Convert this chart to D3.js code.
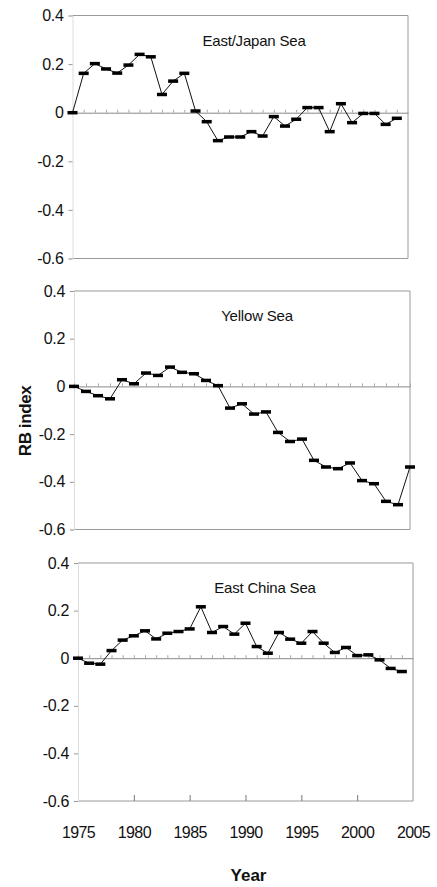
<!DOCTYPE html>
<html lang="en">
  <head>
    <meta charset="UTF-8" />
    <script src="https://cdnjs.cloudflare.com/ajax/libs/d3/7.8.5/d3.min.js"></script>
    <title>RB index</title>
    <style>
      body {
        margin: 0;
        background: #fff;
      }
      text {
        font-family: "Liberation Sans", Arial, sans-serif;
        fill: #111;
      }
      .title {
        font-size: 15px;
        text-anchor: middle;
        letter-spacing: -0.2px;
      }
      .axis-title {
        font-size: 17px;
        font-weight: bold;
        text-anchor: middle;
      }
      .frame {
        fill: none;
        stroke: #9a9a9a;
      }
      .series {
        fill: none;
        stroke: #111;
        stroke-width: 1;
      }
      .marker {
        fill: #000;
      }
    </style>
  </head>
  <body>
    <script>
      // years 1975-2004 (East/Japan Sea, East China Sea)
      const years = [
        1975, 1976, 1977, 1978, 1979, 1980, 1981, 1982, 1983, 1984, 1985,
        1986, 1987, 1988, 1989, 1990, 1991, 1992, 1993, 1994, 1995, 1996,
        1997, 1998, 1999, 2000, 2001, 2002, 2003, 2004,
      ];
      // Yellow Sea panel has 29 points spread over the full width
      const yellowYears = [
        1975, 1976, 1977, 1978, 1979, 1980, 1981, 1982, 1983, 1984, 1985,
        1986, 1987, 1988, 1989, 1990, 1991, 1992, 1993, 1994, 1995, 1996,
        1997, 1998, 1999, 2000, 2001, 2002, 2003,
      ];

      const eastJapan = [
        0, 0.162, 0.202, 0.18, 0.163, 0.196, 0.24, 0.23, 0.075, 0.13, 0.162,
        0.007, -0.037, -0.115, -0.1, -0.1, -0.078, -0.096, -0.016, -0.055,
        -0.027, 0.021, 0.021, -0.078, 0.037, -0.041, -0.003, -0.003, -0.048,
        -0.023,
      ];
      const yellow = [
        0, -0.021, -0.039, -0.052, 0.028, 0.011, 0.056, 0.046, 0.081, 0.059,
        0.053, 0.025, 0.003, -0.091, -0.073, -0.116, -0.107, -0.193, -0.231,
        -0.221, -0.31, -0.338, -0.345, -0.321, -0.395, -0.408, -0.482,
        -0.496, -0.338,
      ];
      const eastChina = [
        0, -0.021, -0.025, 0.032, 0.076, 0.094, 0.115, 0.081, 0.105, 0.112,
        0.123, 0.216, 0.108, 0.133, 0.101, 0.147, 0.049, 0.021, 0.108, 0.08,
        0.063, 0.112, 0.063, 0.024, 0.045, 0.011, 0.014, -0.007, -0.043,
        -0.056,
      ];

      const yTicks = [0.4, 0.2, 0, -0.2, -0.4, -0.6];
      const xLabels = [1975, 1980, 1985, 1990, 1995, 2000, 2005];
      const xMajor = [1980, 1985, 1990, 1995, 2000];

      const panels = [
        { title: "East/Japan Sea", years: years, values: eastJapan, xEnd: 2005 },
        { title: "Yellow Sea", years: yellowYears, values: yellow, xEnd: 2003 },
        { title: "East China Sea", years: years, values: eastChina, xEnd: 2005 },
      ];
      // plot boxes, as placed in the scanned figure
      const boxes = [
        { left: 72.5, right: 408, top: 15.5, bottom: 258.5, titleX: 254 },
        { left: 74, right: 410, top: 291, bottom: 529.5, titleX: 257 },
        { left: 78, right: 413, top: 563, bottom: 801, titleX: 265 },
      ];

      const svg = d3
        .select("body")
        .append("svg")
        .attr("width", 437)
        .attr("height", 887);

      const fmt = function (d) {
        return d === 0 ? "0" : d.toFixed(1);
      };

      panels.forEach(function (p, i) {
        const b = boxes[i];
        const x = d3.scaleLinear().domain([1975, p.xEnd]).range([b.left, b.right]);
        const y = d3.scaleLinear().domain([-0.6, 0.4]).range([b.bottom, b.top]);
        const g = svg.append("g");

        // frame: top, right, bottom
        g.append("path")
          .attr("class", "frame")
          .attr("d", `M ${b.left},${b.top} H ${b.right} V ${b.bottom} H ${b.left}`);

        // y axis
        const yAxis = g
          .append("g")
          .attr("transform", `translate(${b.left},0)`)
          .call(d3.axisLeft(y).tickValues(yTicks).tickFormat(fmt).tickSize(4).tickPadding(5))
          .attr("font-family", '"Liberation Sans", Arial, sans-serif')
          .attr("font-size", 16)
          .style("color", "#111");
        yAxis.select(".domain").attr("stroke", "#dcdcdc");
        yAxis.selectAll(".tick line").attr("stroke", "#999");
        yAxis.selectAll(".tick text").style("letter-spacing", "-0.3px");

        // zero line with yearly ticks
        const zero = g
          .append("g")
          .attr("transform", `translate(0,${y(0)})`)
          .call(d3.axisTop(x).tickValues(p.years).tickFormat("").tickSize(3).tickSizeOuter(0))
          .style("color", "#a8a8a8");
        zero.select(".domain").attr("stroke", "#888");

        // series line + dash markers
        const line = d3
          .line()
          .x(function (d, j) {
            return x(p.years[j]);
          })
          .y(function (d) {
            return y(d);
          });
        g.append("path").attr("class", "series").attr("d", line(p.values));

        g.append("g")
          .selectAll("rect")
          .data(p.values)
          .enter()
          .append("rect")
          .attr("class", "marker")
          .attr("x", function (d, j) {
            return x(p.years[j]) - 5;
          })
          .attr("y", function (d) {
            return y(d) - 1.75;
          })
          .attr("width", 10)
          .attr("height", 3.5);

        g.append("text")
          .attr("class", "title")
          .attr("x", b.titleX)
          .attr("y", b.top + 30)
          .text(p.title);

        if (i === panels.length - 1) {
          g.append("g")
            .attr("transform", `translate(0,${b.bottom})`)
            .call(d3.axisTop(x).tickValues(xMajor).tickFormat("").tickSize(6).tickSizeOuter(0))
            .style("color", "#777")
            .select(".domain")
            .remove();

          const xAxis = g
            .append("g")
            .attr("transform", `translate(0,${b.bottom})`)
            .call(d3.axisBottom(x).tickValues(xLabels).tickFormat(d3.format("d")).tickSize(0).tickPadding(26))
            .attr("font-family", '"Liberation Sans", Arial, sans-serif')
            .attr("font-size", 16)
            .style("color", "#111");
          xAxis.select(".domain").remove();
          xAxis.selectAll(".tick text").style("letter-spacing", "-0.6px");
        }
      });

      svg
        .append("text")
        .attr("class", "axis-title")
        .attr("transform", "translate(31,421) rotate(-90)")
        .style("letter-spacing", "-0.4px")
        .text("RB index");

      svg
        .append("text")
        .attr("class", "axis-title")
        .attr("x", 248.5)
        .attr("y", 881)
        .text("Year");
    </script>
  </body>
</html>
